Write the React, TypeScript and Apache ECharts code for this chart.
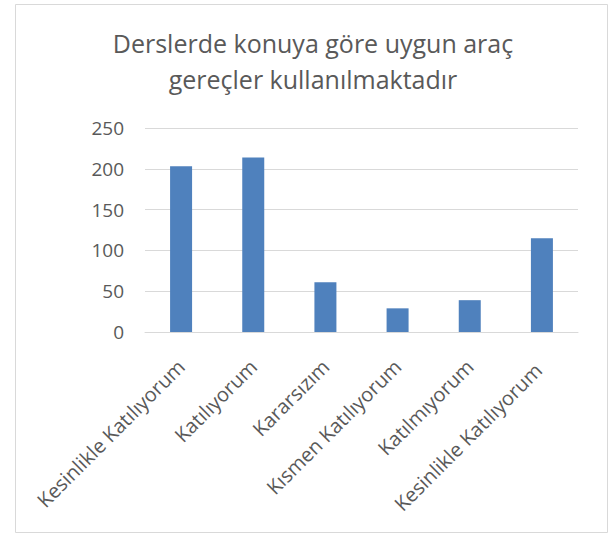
import React, { useEffect, useRef } from "react";
import * as echarts from "echarts";

const titleText = "Derslerde konuya göre uygun araç\ngereçler kullanılmaktadır";
const categories = [
  "Kesinlikle Katılıyorum",
  "Katılıyorum",
  "Kararsızım",
  "Kısmen Katılıyorum",
  "Katılmıyorum",
  "Kesinlikle Katılıyorum ",
];
const values = [203, 214, 61, 29, 39, 115];
const yMin = 0;
const yMax = 250;
const yStep = 50;

export default function App() {
  const ref = useRef<HTMLDivElement>(null);
  useEffect(() => {
    if (!ref.current) return;
    const chart = echarts.init(ref.current, undefined, { renderer: "svg" });
    const font = "Open Sans";
    chart.setOption({
      animation: false,
      backgroundColor: "#ffffff",
      title: {
        text: titleText,
        left: 308,
        top: 20,
        textAlign: "center",
        textStyle: {
          fontFamily: font,
          fontSize: 25,
          fontWeight: "normal",
          color: "#595959",
          lineHeight: 36,
        },
      },
      graphic: [
        {
          type: "rect",
          shape: { x: 15.5, y: 4.5, width: 592, height: 528 },
          style: { fill: "none", stroke: "#D9D9D9", lineWidth: 1 },
          silent: true,
        },
      ],
      grid: { left: 145, right: 32, top: 128, height: 204 },
      xAxis: {
        type: "category",
        data: categories,
        axisLine: { show: true, lineStyle: { color: "#D9D9D9", width: 1 } },
        axisTick: { show: false },
        axisLabel: {
          rotate: 45,
          interval: 0,
          margin: 31,
          fontFamily: font,
          fontSize: 20,
          color: "#595959",
        },
      },
      yAxis: {
        type: "value",
        min: yMin,
        max: yMax,
        interval: yStep,
        axisLine: { show: false },
        axisTick: { show: false },
        splitLine: { lineStyle: { color: "#D9D9D9", width: 1 } },
        axisLabel: {
          margin: 21,
          fontFamily: font,
          fontSize: 19,
          color: "#595959",
        },
      },
      series: [
        {
          type: "bar",
          data: values,
          barWidth: 22,
          itemStyle: { color: "#4F81BD" },
        },
      ],
    });
    return () => chart.dispose();
  }, []);
  return (
    <div
      ref={ref}
      style={{ position: "fixed", left: 0, top: 0, width: 610, height: 535 }}
    />
  );
}
